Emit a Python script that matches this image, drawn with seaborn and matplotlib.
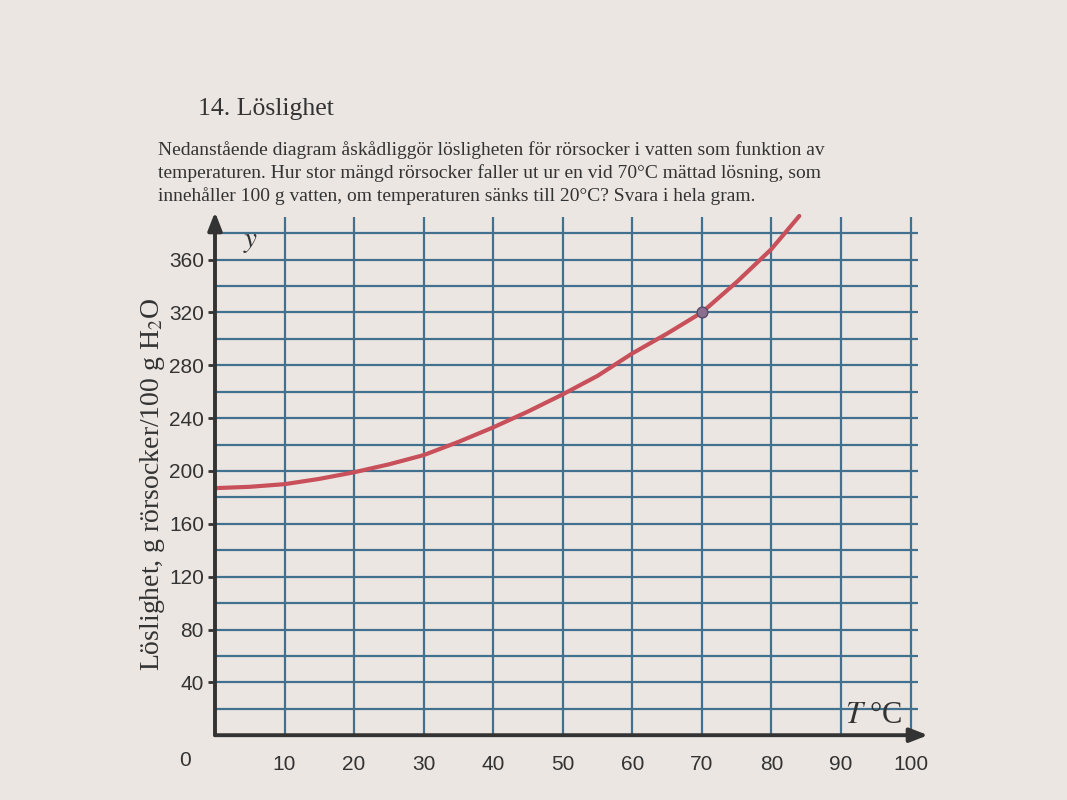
import matplotlib
matplotlib.use("Agg")
import matplotlib.pyplot as plt
import seaborn as sns

# solubility of sucrose
temperature = [0, 5, 10, 15, 20, 25, 30, 35, 40, 45, 50, 55, 60, 65, 70, 75, 80, 84]
solubility = [187, 188, 190, 194, 199, 205, 212, 222, 233, 245, 258, 272, 289, 304, 320, 343, 368, 393]
marked_t = [70]
marked_s = [320]

x_ticks = [10, 20, 30, 40, 50, 60, 70, 80, 90, 100]
y_ticks = [40, 80, 120, 160, 200, 240, 280, 320, 360]
y_grid = [20, 40, 60, 80, 100, 120, 140, 160, 180, 200, 220, 240, 260, 280, 300, 320, 340, 360, 380]

title = "14. Löslighet"
question = ("Nedanstående diagram åskådliggör lösligheten för rörsocker i vatten som funktion av\n"
            "temperaturen. Hur stor mängd rörsocker faller ut ur en vid 70°C mättad lösning, som\n"
            "innehåller 100 g vatten, om temperaturen sänks till 20°C? Svara i hela gram.")
y_label = "Löslighet, g rörsocker/100 g H$_2$O"

PAPER = "#ebe6e2"
GRID = "#42708f"
INK = "#333333"
CURVE = "#c8505a"

sns.set_theme(style="white")
plt.rcParams["font.family"] = ["Liberation Sans", "DejaVu Sans"]
plt.rcParams["mathtext.fontset"] = "stix"

fig = plt.figure(figsize=(10.67, 8), dpi=100, facecolor=PAPER)
ax = fig.add_axes([0.2015, 0.081, 0.678, 0.654])
ax.set_facecolor(PAPER)

# grid drawn by hand so it stops short of the arrows like on the sheet
ax.vlines(x_ticks, 0, 392, color=GRID, lw=1.6, zorder=1)
ax.hlines(y_grid, 0, 101, color=GRID, lw=1.6, zorder=1)

sns.lineplot(x=temperature, y=solubility, color=CURVE, lw=3, ax=ax, zorder=3)
sns.scatterplot(x=marked_t, y=marked_s, s=60, color="#8a6f8f", edgecolor="#5a4a6a",
                linewidth=1, ax=ax, zorder=4)

ax.set_xlim(0, 104)
ax.set_ylim(0, 396)
for side in ["top", "right", "left", "bottom"]:
    ax.spines[side].set_visible(False)

# axes with arrow heads
arrow = dict(arrowstyle="-|>,head_length=0.9,head_width=0.35", color=INK, lw=2.8,
             shrinkA=0, shrinkB=0)
ax.annotate("", xy=(0, 396), xytext=(0, 0), arrowprops=arrow, annotation_clip=False)
ax.annotate("", xy=(102.5, 0), xytext=(0, 0), arrowprops=arrow, annotation_clip=False)

ax.set_xticks(x_ticks)
ax.set_yticks(y_ticks)
ax.tick_params(axis="x", length=0, pad=14, labelsize=15, colors=INK)
ax.tick_params(axis="y", length=5, width=2, color=INK, pad=3, labelsize=15, labelcolor=INK, left=True)
ax.text(-4.3, -19, "0", ha="center", va="center", fontsize=15, color=INK)

ax.text(4, 374, "$y$", fontsize=21, color=INK, va="center")
ax.text(90.5, 15, "$T$ °C", fontsize=22, color=INK, va="center", family="Liberation Serif")

ax.set_ylabel(y_label, fontsize=20, family="Liberation Serif", color=INK, labelpad=10)
ax.yaxis.set_label_coords(-0.066, 0.48)

fig.text(0.186, 0.864, title, fontsize=18.5, family="Liberation Serif", color=INK, va="center")
fig.text(0.148, 0.784, question, fontsize=14, family="Liberation Serif", color=INK,
         va="center", linespacing=1.38)

fig.savefig("out.png", dpi=100, facecolor=PAPER)
